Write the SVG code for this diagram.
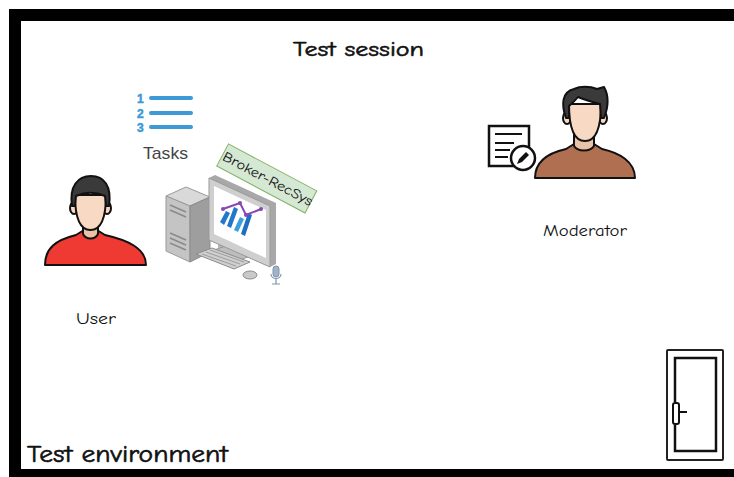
<svg xmlns="http://www.w3.org/2000/svg" width="734" height="477" viewBox="0 0 734 477">
  <style>
    .hand { font-family: "Comic Sans MS", "Comic Neue", "DejaVu Sans", sans-serif; fill: #111; }
    .bold { stroke: #111; stroke-width: 0.6; }
    .ui { font-family: "Segoe UI", "Liberation Sans", Arial, sans-serif; fill: #444; }
    .ol { stroke: #111; stroke-width: 2; stroke-linejoin: round; }
    .skin { fill: #f8d9c4; }
    .hair { fill: #3a3a3a; }
    .task-line { stroke: #3d9ad6; stroke-width: 4; stroke-linecap: round; }
    .task-num { font-family: "Liberation Sans", Arial, sans-serif; font-weight: bold; font-size: 12px; fill: #3d9ad6; stroke: #3d9ad6; stroke-width: 0.5; }
  </style>

  <rect x="0" y="0" width="734" height="477" fill="#ffffff"/>

  <!-- test environment frame -->
  <g id="environment">
    <rect x="15" y="15" width="730" height="460" fill="none" stroke="#000" stroke-width="12"/>
    <text class="hand bold" x="27" y="462" font-size="24" textLength="201" lengthAdjust="spacingAndGlyphs">Test environment</text>
  </g>

  <g id="session-title">
    <text class="hand bold" x="293" y="56" font-size="21" textLength="131" lengthAdjust="spacingAndGlyphs">Test session</text>
  </g>

  <!-- task list -->
  <g id="tasks">
    <text class="task-num" x="137" y="103">1</text>
    <text class="task-num" x="137" y="118">2</text>
    <text class="task-num" x="137" y="132">3</text>
    <line class="task-line" x1="151" y1="98" x2="191" y2="98"/>
    <line class="task-line" x1="151" y1="113" x2="191" y2="113"/>
    <line class="task-line" x1="151" y1="127" x2="191" y2="127"/>
    <text class="ui" x="143" y="159" font-size="17" textLength="45" lengthAdjust="spacingAndGlyphs">Tasks</text>
  </g>

  <!-- user -->
  <g id="user">
    <path class="ol" fill="#ee3a33" d="M45,265 C45,248 56,240 76,235 L84,230 L97,230 L105,235 C127,240 146,248 146,265 Z"/>
    <path class="ol" fill="#e9c3a8" d="M83,222 L83,234 C86,240 95,240 98,234 L98,222 Z"/>
    <ellipse class="ol skin" cx="74" cy="208" rx="4" ry="6"/>
    <ellipse class="ol skin" cx="107" cy="208" rx="4" ry="6"/>
    <path class="ol skin" d="M75,195 C75,218 80,230 90.5,230 C101,230 106,218 106,195 Z"/>
    <path class="ol hair" d="M72,206 C69,186 78,176 91,176 C104,176 112,186 109,206 L106,206 L105,196 C96,192 85,192 76,196 L75,206 Z"/>
    <text class="hand" x="76" y="324" font-size="15" textLength="40" lengthAdjust="spacingAndGlyphs" fill="#333">User</text>
  </g>

  <!-- workstation -->
  <g id="workstation">
    <!-- tower -->
    <polygon points="166,196 186,187 210,197 190,206" fill="#d9d9d9" stroke="#9a9a9a"/>
    <polygon points="166,196 190,206 190,262 166,251" fill="#c4c4c4" stroke="#9a9a9a"/>
    <polygon points="190,206 210,197 210,252 190,262" fill="#9e9e9e" stroke="#8a8a8a"/>
    <g stroke="#8a8a8a" stroke-width="1.5">
      <line x1="170" y1="205" x2="186" y2="212"/>
      <line x1="170" y1="210" x2="186" y2="217"/>
      <line x1="170" y1="233" x2="186" y2="240"/>
      <line x1="170" y1="238" x2="186" y2="245"/>
      <line x1="170" y1="243" x2="186" y2="250"/>
    </g>
    <!-- monitor stand and base -->
    <polygon points="218,240 232,246 232,256 218,250" fill="#b5b5b5"/>
    <polygon points="214,250 240,260 258,253 232,244" fill="#bdbdbd" stroke="#999"/>
    <!-- monitor -->
    <polygon points="209,178 215,175 276,203 276,264 270,267 209,240" fill="#a8a8a8"/>
    <polygon points="209,178 270,206 270,267 209,240" fill="#cfcfcf" stroke="#999"/>
    <polygon points="214,186 266,210 266,258 214,234" fill="#ffffff"/>
    <!-- chart -->
    <g fill="#2277cc">
      <polygon points="220,222 226,211 230,213 224,225"/>
      <polygon points="227,226 234,207 238,209 231,228"/>
      <polygon points="234,230 240,217 244,219 238,232" fill="#3aa0d8"/>
      <polygon points="241,234 248,213 252,215 245,236" fill="#1f6fc0"/>
    </g>
    <polyline points="223,209 240,203 246,215 261,209" fill="none" stroke="#8a45b5" stroke-width="2"/>
    <g fill="#8a45b5">
      <circle cx="223" cy="209" r="2"/>
      <circle cx="240" cy="203" r="2"/>
      <circle cx="246" cy="215" r="2"/>
      <circle cx="261" cy="209" r="2"/>
    </g>
    <!-- keyboard -->
    <polygon points="196,254 212,248 250,262 234,269" fill="#cfcfcf" stroke="#8c8c8c"/>
    <g stroke="#9c9c9c" stroke-width="1">
      <line x1="202" y1="254" x2="236" y2="266"/>
      <line x1="206" y1="252" x2="240" y2="264"/>
      <line x1="210" y1="250" x2="244" y2="262"/>
    </g>
    <!-- mouse -->
    <ellipse cx="250" cy="275" rx="7" ry="4" fill="#c9c9c9" stroke="#8c8c8c"/>
    <!-- microphone -->
    <rect x="273" y="266" width="6" height="11" rx="3" fill="#9fb4c8" stroke="#7e93a8"/>
    <path d="M271,274 C271,280 281,280 281,274 M276,279 L276,284 M272,284 L280,284" fill="none" stroke="#7e93a8" stroke-width="1.2"/>
  </g>

  <!-- application label -->
  <g id="broker-recsys" transform="translate(267,178) rotate(28)">
    <rect x="-50" y="-12" width="100" height="25" fill="#d5e8d4" stroke="#82b366" stroke-width="1"/>
    <text class="hand" x="1" y="5" font-size="14" text-anchor="middle" textLength="100" lengthAdjust="spacingAndGlyphs" fill="#222">Broker-RecSys</text>
  </g>

  <!-- moderator -->
  <g id="moderator">
    <path class="ol" fill="#b06f50" d="M535,178 C535,162 548,153 566,149 L574,144 L594,144 L602,149 C620,153 635,162 635,178 Z"/>
    <path class="ol" fill="#e9c3a8" d="M574,134 L574,146 C578,152 590,152 594,146 L594,134 Z"/>
    <ellipse class="ol skin" cx="567" cy="118" rx="4" ry="6"/>
    <ellipse class="ol skin" cx="603" cy="118" rx="4" ry="6"/>
    <path class="ol skin" d="M569,104 C569,130 575,141 585,141 C595,141 601,130 601,104 Z"/>
    <path class="ol hair" d="M566,118 C561,104 562,92 574,89 C580,86 590,86 597,89 L604,87 C609,96 608,108 604,118 L601,118 L600,104 C592,102 585,100 578,97 C574,102 571,104 569,106 L569,118 Z"/>
    <!-- notes icon -->
    <rect x="489" y="126" width="40" height="40" fill="#fff" stroke="#111" stroke-width="2.5"/>
    <g stroke="#111" stroke-width="2">
      <line x1="495" y1="134" x2="522" y2="134"/>
      <line x1="495" y1="143" x2="514" y2="143"/>
      <line x1="495" y1="150" x2="510" y2="150"/>
      <line x1="495" y1="157" x2="508" y2="157"/>
    </g>
    <circle cx="523" cy="158" r="12" fill="#fff" stroke="#111" stroke-width="2.5"/>
    <path d="M517,164 L519,159 L526,152 L529,155 L522,162 Z" fill="#111"/>
    <text class="hand" x="543" y="236" font-size="15" textLength="84" lengthAdjust="spacingAndGlyphs" fill="#333">Moderator</text>
  </g>

  <!-- exit door -->
  <g id="door">
    <rect x="667" y="350" width="56" height="110" rx="1" fill="#fff" stroke="#222" stroke-width="2"/>
    <path d="M675,402 L675,358 L716,358 L716,451 L675,451 L675,425" fill="none" stroke="#111" stroke-width="2.5"/>
    <rect x="673" y="403" width="6" height="21" rx="2" fill="#fff" stroke="#111" stroke-width="2"/>
    <line x1="679" y1="412" x2="687" y2="412" stroke="#111" stroke-width="2"/>
  </g>
</svg>
